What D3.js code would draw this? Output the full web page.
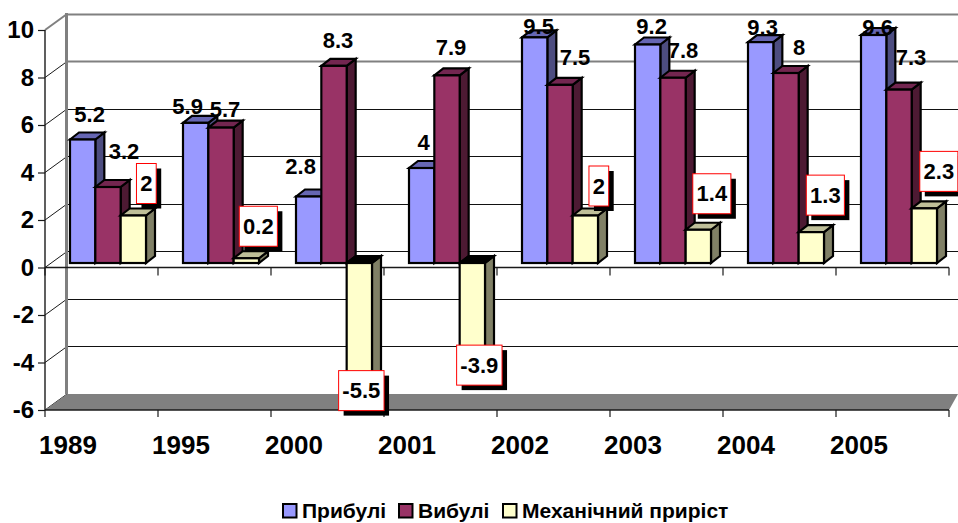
<!DOCTYPE html>
<html><head><meta charset="utf-8">
<script src="https://cdn.jsdelivr.net/npm/d3@7"></script>
<style>html,body{margin:0;padding:0;background:#fff}svg{display:block}text{font-family:"Liberation Sans",Arial,sans-serif;font-weight:bold;fill:#000}</style>
</head><body><svg id="c" width="958" height="523"></svg>
<script>
const categories = ["1989","1995","2000","2001","2002","2003","2004","2005"];
const seriesNames = ["Прибулі","Вибулі","Механічний приріст"];
const arrivals = [5.2,5.9,2.8,4,9.5,9.2,9.3,9.6];
const departures = [3.2,5.7,8.3,7.9,7.5,7.8,8,7.3];
const netGrowth = [2,0.2,-5.5,-3.9,2,1.4,1.3,2.3];
const yTicks = [-6,-4,-2,0,2,4,6,8,10];
const faceColors = ["#9999FF","#993366","#FFFFCC"];
const sideColors = ["#4D4D80","#4D1A33","#808066"];
const topColors = ["#6666B3","#732650","#BFBF99"];
// label centre relative to the bar's centre and end edge (hand placement from the reference)
const labelNudgeArrivals = [[7,-25],[-8,-17],[-8,-30],[2,-26],[4,-11],[4,-18],[2,-15],[4,-8]];
const labelNudgeDepartures = [[16,-36],[4,-18],[4,-26],[4,-28],[15,-28],[10,-27],[13,-26],[12,-32]];
const labelNudgeNet = [[13,-32],[12,-32],[2,-3],[7,9.5],[13.5,-29.5],[13.5,-36],[14,-37],[14.5,-37]];

const svg = d3.select("#c");
const W = 958, depthX = 22, depthY = -16, barDX = 9, barDY = -7;
const x = d3.scaleBand().domain(categories).range([45,949]);
const bw = x.bandwidth();
const inner = d3.scaleBand().domain([0,1,2]).range([25,101]);
const y = d3.scaleLinear().domain([-6,10]).range([410,30]);
const barZero = y(0) - 4.5;
const h = v => Math.abs(y(0)-y(v));

// gridlines on the walls
yTicks.forEach(t => {
  const heavy = t >= 8;
  if (t > -6) {
    const gy0 = Math.floor(y(t)+depthY)+0.5;
    svg.append("line").attr("x1",45+depthX-1).attr("x2",W).attr("y1",gy0).attr("y2",gy0)
      .attr("stroke",heavy?"#808080":"#111").attr("stroke-width",heavy?2.2:1);
  }
  svg.append("line").attr("x1",45).attr("x2",45+depthX)
    .attr("y1",y(t)).attr("y2",y(t)+depthY).attr("stroke",t==10?"#808080":"#1a1a1a").attr("stroke-width",t==10?2:1);
});
// back wall edge
svg.append("line").attr("x1",66.5).attr("x2",66.5).attr("y1",y(10)+depthY-1).attr("y2",y(-6)+depthY)
  .attr("stroke","#808080").attr("stroke-width",3);
// floor
svg.append("path").attr("d",d3.line()([[45,y(-6)],[45+depthX,y(-6)+depthY],[W,y(-6)+depthY],[949,y(-6)]])+"Z").attr("fill","#808080");

// axes
const yAxis = d3.axisLeft(y).tickValues(yTicks).tickSize(7).tickPadding(4).tickFormat(String);
const gy = svg.append("g").attr("transform","translate(45,0)").call(yAxis);
gy.selectAll("text").style("font-size","24px").attr("dy","0.33em");
gy.select(".domain").attr("stroke","#1a1a1a").attr("stroke-width",1.4).attr("d",`M0,${y(10)}V${y(-6)}`);
gy.selectAll("line").attr("stroke","#1a1a1a").attr("stroke-width",1.2);

function catAxis(yPos,len,withLabels){
  const ax = d3.axisBottom(x).tickSize(len).tickPadding(0);
  const g = svg.append("g").attr("transform",`translate(0,${yPos})`).call(ax);
  g.select(".domain").attr("d",`M45,0H949`).attr("stroke","#1a1a1a").attr("stroke-width",1.6);
  g.selectAll(".tick line").attr("x1",-bw/2).attr("x2",-bw/2).attr("stroke","#1a1a1a").attr("stroke-width",1.2);
  g.append("line").attr("x1",949).attr("x2",949).attr("y1",0).attr("y2",len).attr("stroke","#1a1a1a").attr("stroke-width",1.2);
  if (withLabels) g.selectAll(".tick text").attr("x",23-bw/2).attr("y",35).attr("dy","0.35em").style("font-size","26px");
  else g.selectAll(".tick text").remove();
}
catAxis(y(0),8,false);
catAxis(y(-6),7,true);

// bars
const allSeries = [arrivals,departures,netGrowth];
const allNudges = [labelNudgeArrivals,labelNudgeDepartures,labelNudgeNet];
const line = d3.line();
categories.forEach((cat,ci) => {
  [0,1,2].forEach(si => {
    const v = allSeries[si][ci];
    const x0 = x(cat)+inner(si), w = inner.bandwidth();
    const yTop = v>=0 ? barZero-h(v) : barZero;
    const yBot = v>=0 ? barZero : barZero+h(v);
    const g = svg.append("g").attr("stroke","#000").attr("stroke-width",2.2).attr("stroke-linejoin","miter");
    g.append("path").attr("d",line([[x0+w,yTop],[x0+w+barDX,yTop+barDY],[x0+w+barDX,yBot+barDY],[x0+w,yBot]])+"Z").attr("fill",sideColors[si]);
    g.append("path").attr("d",line([[x0,yTop],[x0+barDX,yTop+barDY],[x0+w+barDX,yTop+barDY],[x0+w,yTop]])+"Z").attr("fill",v<0?"#000":topColors[si]);
    g.append("rect").attr("x",x0).attr("y",yTop).attr("width",w).attr("height",yBot-yTop).attr("fill",faceColors[si]);
  });
});

// labels
const labelLayer = svg.append("g");
[0,1,2].forEach(si => {
  categories.forEach((cat,ci) => {
    const v = allSeries[si][ci];
    const cx = x(cat)+inner(si)+inner.bandwidth()/2;
    const edge = v>=0 ? barZero-h(v) : barZero+h(v);
    const [dx,dy] = allNudges[si][ci];
    const px = cx+dx, py = edge+dy;
    const g = labelLayer.append("g");
    const t = g.append("text").attr("x",px).attr("y",py).attr("text-anchor","middle").attr("dy","0.35em")
      .style("font-size","22px").text(String(v));
    if (si===2) {
      const bwid = t.node().getComputedTextLength() + 7.5, bh = 40;
      g.insert("rect","text").attr("x",px-bwid/2+5).attr("y",py-bh/2+5).attr("width",bwid).attr("height",bh).attr("fill","#000");
      g.insert("rect","text").attr("x",px-bwid/2).attr("y",py-bh/2).attr("width",bwid).attr("height",bh).attr("fill","#fff").attr("stroke","#ff0000").attr("stroke-width",1);
    }
  });
});

// legend
const legendX = [282,398,502];
seriesNames.forEach((n,i) => {
  svg.append("rect").attr("x",legendX[i]+1).attr("y",504).attr("width",13.5).attr("height",13.5)
    .attr("fill",faceColors[i]).attr("stroke","#000").attr("stroke-width",2);
  svg.append("text").attr("x",legendX[i]+20).attr("y",518).style("font-size","21px").text(n);
});
</script></body></html>
